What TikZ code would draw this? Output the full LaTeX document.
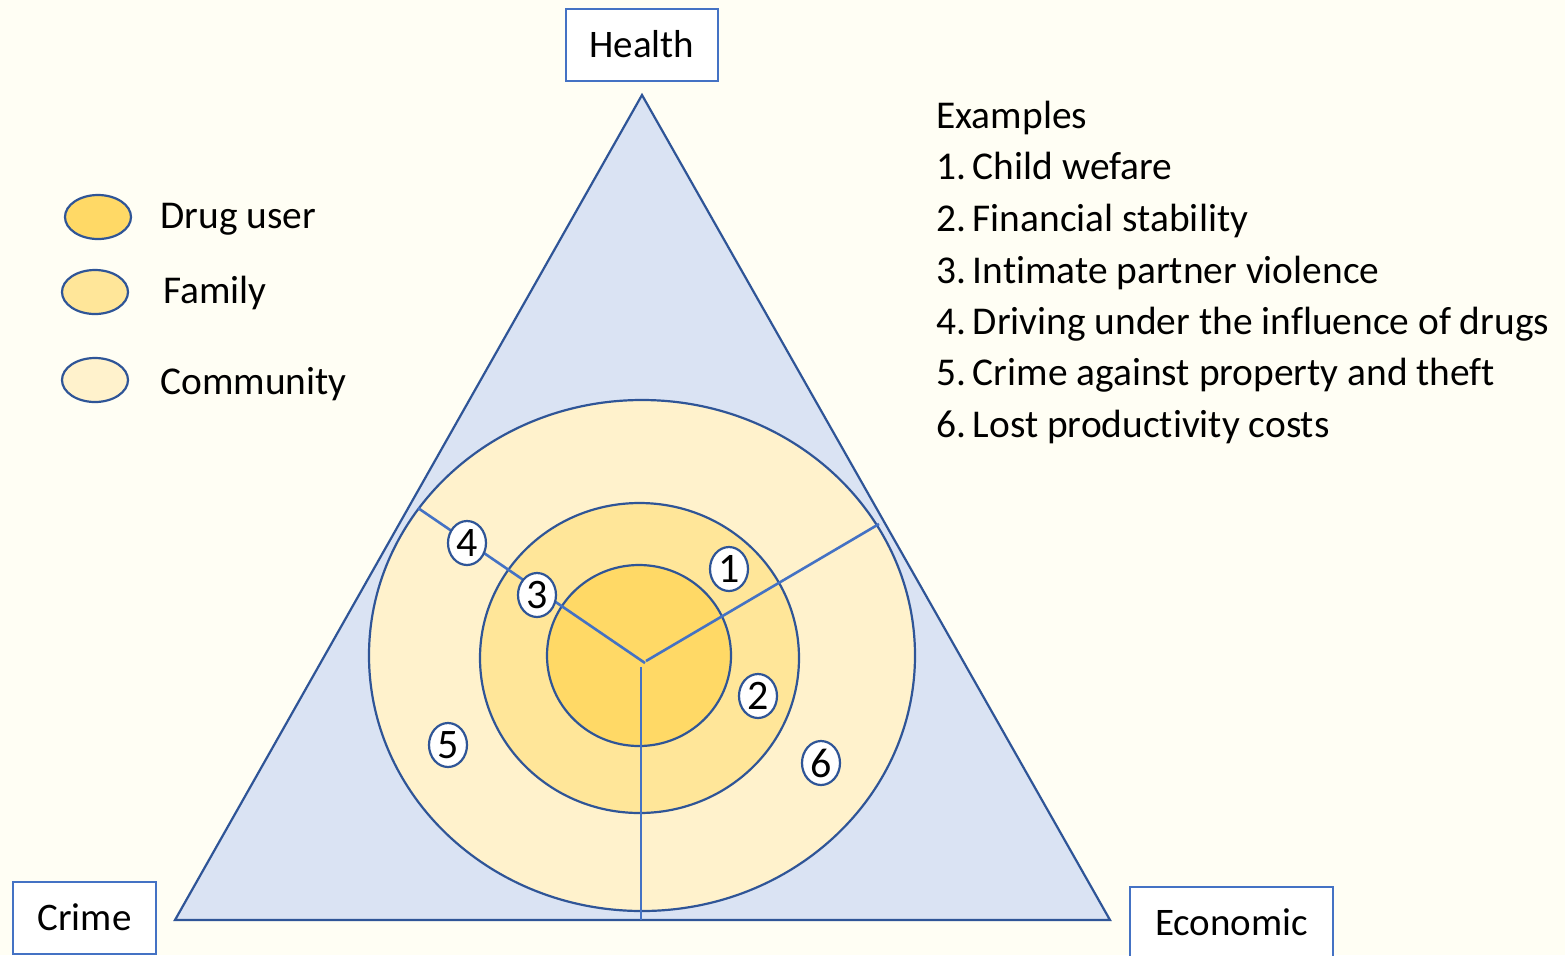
\documentclass[tikz,border=0pt]{standalone}
\usepackage{fontspec}
\setmainfont{Carlito}[Ligatures=NoCommon]
\usetikzlibrary{shapes.geometric}
\definecolor{triblue}{HTML}{DAE3F3}
\definecolor{edgeblue}{HTML}{2F5597}
\definecolor{lineblue}{HTML}{4472C4}
\definecolor{ringC}{HTML}{FFF2CC}
\definecolor{ringF}{HTML}{FFE699}
\definecolor{ringD}{HTML}{FFD966}
\definecolor{bgtint}{HTML}{FFFEF4}
\tikzset{
  ring/.style={draw=edgeblue, line width=1.1pt},
  spoke/.style={draw=lineblue, line width=1.3pt},
  labelbox/.style={draw=lineblue, line width=1.1pt, fill=white, rectangle, inner sep=0pt,
    font=\fontsize{19.5}{23}\selectfont, text height=14pt, text depth=1.5pt},
  badge/.style={ellipse, draw=edgeblue, line width=1.1pt, fill=white, inner sep=0pt,
    minimum width=19pt, minimum height=22pt, font=\fontsize{21}{23}\selectfont},
  legendmark/.style={ellipse, draw=edgeblue, line width=1.1pt, inner sep=0pt,
    minimum width=33pt, minimum height=22pt},
  bodytext/.style={anchor=base west, inner sep=0pt, font=\fontsize{19.7}{23}\selectfont},
}
\begin{document}
\begin{tikzpicture}[x=0.5pt,y=-0.5pt]
\useasboundingbox (0,0) rectangle (1565,955);
\clip (0,0) rectangle (1565,955);
\fill[bgtint] (0,0) rectangle (1565,955);

% triangle
\coordinate (apex) at (642,95);
\coordinate (bl) at (175,920);
\coordinate (br) at (1110,920);
\draw[fill=triblue, draw=edgeblue, line width=1.1pt, line join=miter] (apex) -- (bl) -- (br) -- cycle;

% rings
\draw[ring, fill=ringC] (642,655.5) ellipse [x radius=136.5pt, y radius=127.75pt];
\draw[ring, fill=ringF] (639.5,658) ellipse [x radius=79.75pt, y radius=77.5pt];
\draw[ring, fill=ringD] (639,655.5) ellipse [x radius=46pt, y radius=45.25pt];

% spokes
\coordinate (cL) at (645,663);
\coordinate (cR) at (646,661);
\coordinate (cB) at (641,667);
\coordinate (eL) at (418,508);
\coordinate (eR) at (879,524);
\coordinate (eB) at (641,920);
\draw[spoke] (cL) -- (eL);
\draw[spoke] (cR) -- (eR);
\draw[spoke] (cB) -- (eB);

% badges
\node[badge] (b4) at (467,543) {4};
\node[badge] (b3) at (537,595) {3};
\node[badge] (b1) at (729,569) {1};
\node[badge] (b2) at (758,696) {2};
\node[badge] (b5) at (448,745) {5};
\node[badge] (b6) at (821,763) {6};

% corner labels
\node[labelbox, minimum width=76pt, minimum height=36pt] (health) at (642,45) {Health};
\node[labelbox, minimum width=71.5pt, minimum height=36pt] (crime) at (84.5,918) {Crime};
\node[labelbox, minimum width=101.5pt, minimum height=36pt] (economic) at (1231.5,923) {Economic};

% legend
\node[legendmark, fill=ringD] (lgD) at (98,217) {};
\node[legendmark, fill=ringF] (lgF) at (95,292) {};
\node[legendmark, fill=ringC] (lgC) at (95,380) {};
\node[bodytext] (tD) at (160,228) {Drug user};
\node[bodytext] (tF) at (163,303) {Family};
\node[bodytext] (tC) at (160,394) {Community};

% examples
\node[bodytext] (ex0) at (936,128) {Examples};
\node[bodytext] (ex1) at (936,179) {1.\,Child wefare};
\node[bodytext] (ex2) at (936,231) {2.\,Financial stability};
\node[bodytext] (ex3) at (936,283) {3.\,Intimate partner violence};
\node[bodytext] (ex4) at (936,334) {4.\,Driving under the influence of drugs};
\node[bodytext] (ex5) at (936,385) {5.\,Crime against property and theft};
\node[bodytext] (ex6) at (936,437) {6.\,Lost productivity costs};
\end{tikzpicture}
\end{document}
